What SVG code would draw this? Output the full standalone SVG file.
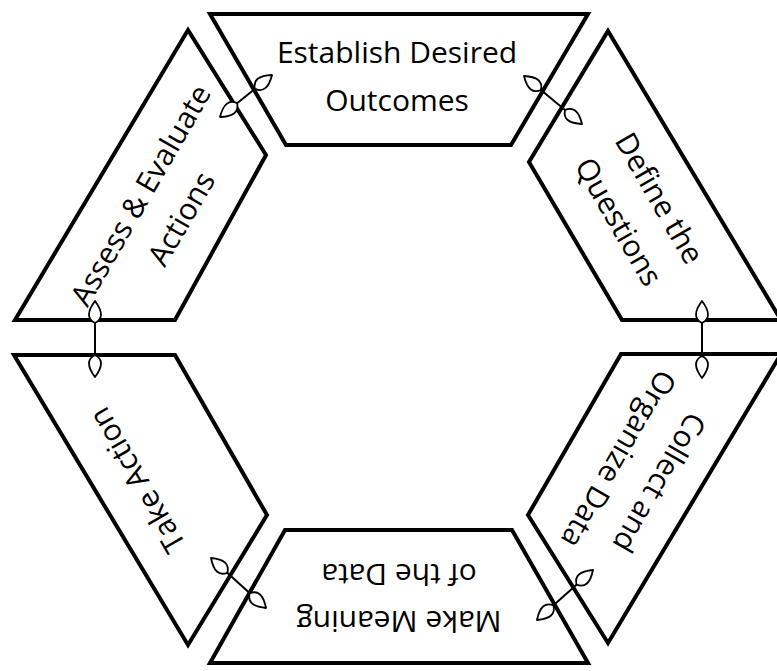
<svg xmlns="http://www.w3.org/2000/svg" width="777" height="671" viewBox="0 0 777 671">
<style>
.box{fill:#fff;stroke:#000;stroke-width:4;stroke-linejoin:miter}
.lbl{font-family:"Open Sans","Liberation Sans",sans-serif;font-size:30px;fill:#000;text-anchor:middle}
.link{stroke:#000;stroke-width:2;fill:none;marker-start:url(#ah);marker-end:url(#ah)}
</style>
<defs>
<marker id="ah" markerUnits="userSpaceOnUse" viewBox="0 0 24 16" refX="23" refY="8" markerWidth="24" markerHeight="16" orient="auto-start-reverse">
<path d="M23,8 Q7,-4 1,8 Q7,20 23,8 Z" fill="#fff" stroke="#000" stroke-width="1.8" stroke-linejoin="round"/>
</marker>
</defs>
<rect width="777" height="671" fill="#fff"/>
<g id="node-establish">
<polygon class="box" points="210,14 588,14 511,145 286,145"/>
<text class="lbl" transform="translate(397,77)"><tspan x="0" y="-14">Establish Desired</tspan><tspan x="0" y="34">Outcomes</tspan></text>
</g>
<g id="node-define">
<polygon class="box" points="608,31 781,320 622,320 529,162"/>
<text class="lbl" transform="translate(639,210) rotate(60)"><tspan x="0" y="-13">Define the</tspan><tspan x="0" y="34">Questions</tspan></text>
</g>
<g id="node-collect">
<polygon class="box" points="621,354 781,354 608,643 528,515"/>
<text class="lbl" transform="translate(639,471) rotate(120)"><tspan x="0" y="-13">Collect and</tspan><tspan x="0" y="34">Organize Data</tspan></text>
</g>
<g id="node-meaning">
<polygon class="box" points="210,663 588,663 512,530 285,530"/>
<text class="lbl" transform="translate(399,598) rotate(180)"><tspan x="0" y="-13">Make Meaning</tspan><tspan x="0" y="34">of the Data</tspan></text>
</g>
<g id="node-action">
<polygon class="box" points="14,355 175,355 267,515 188,645"/>
<text class="lbl" transform="translate(137,480) rotate(-120)"><tspan x="0" y="10.5">Take Action</tspan></text>
</g>
<g id="node-assess">
<polygon class="box" points="188,30 266,155 175,320 15,320"/>
<text class="lbl" transform="translate(161,207) rotate(-60)"><tspan x="0" y="-13">Assess &amp; Evaluate</tspan><tspan x="0" y="34">Actions</tspan></text>
</g>
<g id="connectors">
<line class="link" x1="95" y1="301" x2="95" y2="377"/>
<line class="link" x1="702" y1="301" x2="702" y2="378"/>
<line class="link" x1="220" y1="117" x2="272" y2="75"/>
<line class="link" x1="524" y1="76" x2="582" y2="124"/>
<line class="link" x1="211" y1="558" x2="266" y2="608"/>
<line class="link" x1="593" y1="570" x2="537" y2="620"/>
</g>
</svg>
